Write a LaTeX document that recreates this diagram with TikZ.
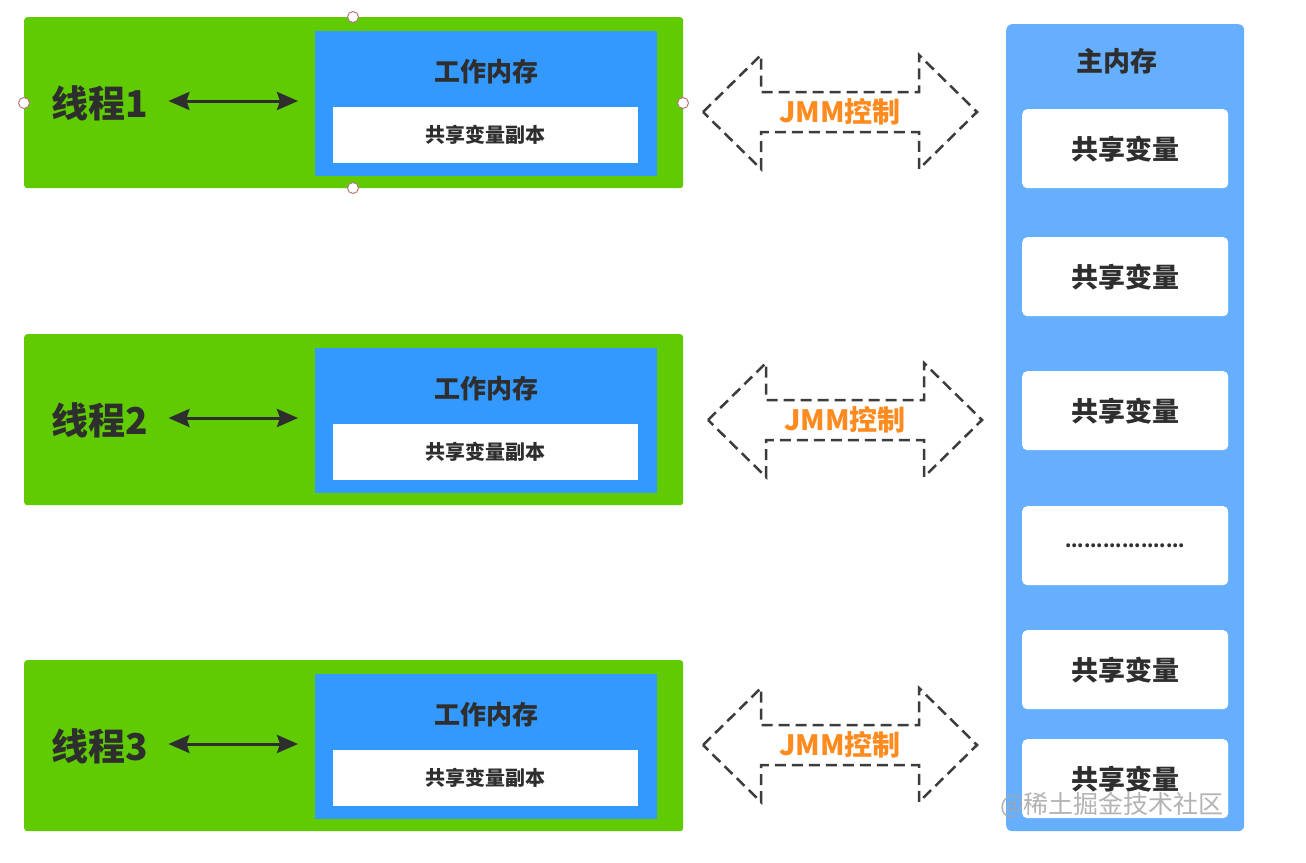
\documentclass[tikz,border=0pt]{standalone}
\usepackage{fontspec}
\newfontfamily\cjk{Noto Sans CJK SC}
\usetikzlibrary{arrows.meta}
\definecolor{thrgreen}{HTML}{5FCB00}
\definecolor{workblue}{HTML}{3399FF}
\definecolor{mmblue}{HTML}{66AFFF}
\definecolor{txt}{HTML}{2E2E2E}
\definecolor{jmmorange}{HTML}{FF8A1E}
\definecolor{dashc}{HTML}{3C3C3C}
\definecolor{handle}{HTML}{B87878}
\tikzset{
  thread/.style={fill=thrgreen, rounded corners=3pt, anchor=north west, inner sep=0pt, minimum width=659pt, minimum height=171pt},
  work/.style={fill=workblue, anchor=north west, inner sep=0pt, minimum width=342pt, minimum height=145pt},
  copybox/.style={fill=white, anchor=north west, inner sep=0pt, minimum width=305pt, minimum height=56pt, text=txt, font=\cjk\bfseries\fontsize{20}{22}\selectfont},
  worklabel/.style={text=txt, font=\cjk\bfseries\fontsize{26}{28}\selectfont, inner sep=0pt},
  threadlabel/.style={text=txt, font=\cjk\bfseries\fontsize{37}{40}\selectfont, inner sep=0pt},
  linkarrow/.style={draw=txt, line width=3pt, {Stealth[length=21pt,width=18pt,inset=3pt]}-{Stealth[length=21pt,width=18pt,inset=3pt]}},
  jmm/.style={draw=dashc, line width=2.5pt, dash pattern=on 11pt off 6pt, line join=miter},
  jmmlabel/.style={text=jmmorange, font=\cjk\bfseries\fontsize{28}{30}\selectfont, inner sep=0pt},
  mainmem/.style={fill=mmblue, rounded corners=6pt, anchor=north west, inner sep=0pt, minimum width=238pt, minimum height=807pt},
  varbox/.style={fill=white, rounded corners=5pt, anchor=north west, inner sep=0pt, minimum width=206pt, minimum height=79pt, text=txt, font=\cjk\bfseries\fontsize{27}{29}\selectfont},
  handledot/.style={circle, draw=handle, fill=white, line width=1pt, inner sep=0pt, minimum size=11pt},
}
\begin{document}
\begin{tikzpicture}[x=1pt,y=-1pt]
\useasboundingbox[fill=white] (0,0) rectangle (1306,862);

\foreach \i/\t/\ay/\ax in {1/17/112/840, 2/334/420/845, 3/660/745/840}{
  \node[thread] (g\i) at (24,\t) {};
  \node[work] (w\i) at (315,\t+14) {};
  \node[copybox] (c\i) at (333,\t+90) {共享变量副本};
  \node[worklabel] (wl\i) at (486,\t+55) {工作内存};
  \node[threadlabel] (t\i) at (100,\t+86) {线程\i};
  \draw[linkarrow] (t\i.east) ++(20,-2) coordinate (a\i) -- (a\i -| w\i.west) [shorten >=17pt];
  \begin{scope}[shift={(\ax,\ay)}]
    \draw[jmm] (-137,0) -- (-79,-57) -- (-79,-20) -- (79,-20) -- (79,-57) -- (137,0)
      -- (79,57) -- (79,20) -- (-79,20) -- (-79,57) -- cycle;
    \node[jmmlabel] (j\i) at (0,0) {JMM控制};
  \end{scope}
}

% selection handles on thread 1
\node[handledot] (h1) at (353,17) {};
\node[handledot] (h2) at (353,188) {};
\node[handledot] (h3) at (24,103) {};
\node[handledot] (h4) at (683,103) {};

% main memory
\node[mainmem] (mm) at (1006,24) {};
\node[text=txt, font=\cjk\bfseries\fontsize{27}{29}\selectfont, inner sep=0pt] (mml) at (1117,61) {主内存};
\node[varbox] (v1) at (1022,109) {共享变量};
\node[varbox] (v2) at (1022,237) {共享变量};
\node[varbox] (v3) at (1022,371) {共享变量};
\node[varbox, font=\cjk\bfseries\fontsize{18}{20}\selectfont] (v4) at (1022,506) {...................};
\node[varbox] (v5) at (1022,630) {共享变量};
\node[varbox] (v6) at (1022,739) {共享变量};

% watermark
\node[text=gray!70, opacity=0.85, font=\cjk\fontsize{25}{27}\selectfont, inner sep=0pt] (wm) at (1112,805) {@稀土掘金技术社区};
\end{tikzpicture}
\end{document}
